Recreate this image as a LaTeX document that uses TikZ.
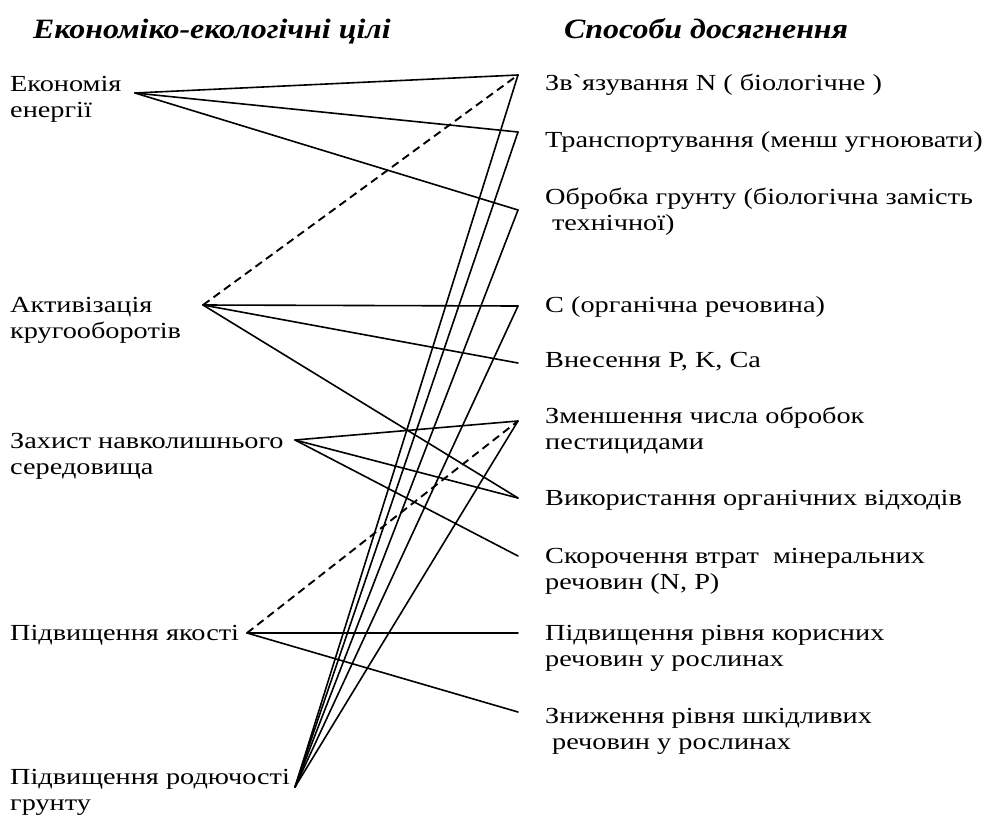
\documentclass[tikz,border=0pt]{standalone}
\usepackage{fontspec}
\setmainfont{Liberation Serif}[Ligatures=TeXOff]
\newfontfamily\bodyfont{Liberation Serif}[Ligatures=TeXOff,FakeStretch=1.23]
\newfontfamily\titlefont{Liberation Serif}[FakeStretch=1.14]
\begin{document}
\begin{tikzpicture}[x=1pt,y=-1pt,
  lbl/.style={anchor=base west, inner sep=0pt, align=left, font=\bodyfont\fontsize{23}{26}\selectfont},
  ttl/.style={anchor=base west, inner sep=0pt, font=\titlefont\bfseries\itshape\fontsize{28}{30}\selectfont},
  link/.style={line width=1.6pt, line cap=round, line join=round},
  dlink/.style={line width=1.9pt, dash pattern=on 8pt off 5pt}]
\useasboundingbox[fill=white] (0,0) rectangle (985,814);

% titles
\node[ttl] (t1) at (33,38) {Економіко-екологічні цілі};
\node[ttl] (t2) at (564,38) {Способи досягнення};

% left labels (anchored at baseline of last line)
\node[lbl] (a1) at (10,117) {Економія\\енергії};
\node[lbl] (a2) at (10,338) {Активізація\\кругооборотів};
\node[lbl] (a3) at (10,474) {Захист навколишнього\\середовища};
\node[lbl] (a4) at (10,640) {Підвищення якості};
\node[lbl] (a5) at (10,810) {Підвищення родючості\\грунту};

% right labels
\node[lbl] (b1) at (545,90) {Зв`язування N ( біологічне )};
\node[lbl] (b2) at (545,147) {Транспортування (менш угноювати)};
\node[lbl] (b3) at (545,230) {Обробка грунту (біологічна замість\\\hspace{0.3em}технічної)};
\node[lbl] (b4) at (545,312) {С (органічна речовина)};
\node[lbl] (b5) at (545,367) {Внесення P, K, Ca};
\node[lbl] (b6) at (545,449) {Зменшення числа обробок\\пестицидами};
\node[lbl] (b7) at (545,505) {Використання органічних відходів};
\node[lbl] (b8) at (545,589) {Скорочення втрат\ \ мінеральних\\речовин (N, P)};
\node[lbl] (b9) at (545,666) {Підвищення рівня корисних\\речовин у рослинах};
\node[lbl] (b10) at (545,749) {Зниження рівня шкідливих\\\hspace{0.3em}речовин у рослинах};

% connection points
\coordinate (L1) at (135,93);
\coordinate (L2) at (203,305);
\coordinate (L3) at (295,440);
\coordinate (L4) at (247,633);
\coordinate (L5) at (295,787);
\coordinate (R1) at (518,75);
\coordinate (R2) at (518,132);
\coordinate (R3) at (518,210);
\coordinate (R4) at (518,306);
\coordinate (R5) at (518,363);
\coordinate (R6) at (518,421);
\coordinate (R7) at (518,498);
\coordinate (R8) at (518,556);
\coordinate (R9) at (518,633);
\coordinate (R10) at (518,712);

% connectors
\draw[link] (L1) -- (R1);
\draw[link] (L1) -- (R2);
\draw[link] (L1) -- (R3);
\draw[dlink] (L2) -- (R1);
\draw[link] (L2) -- (R4);
\draw[link] (L2) -- (R5);
\draw[link] (L2) -- (R7);
\draw[link] (L3) -- (R6);
\draw[link] (L3) -- (R7);
\draw[link] (L3) -- (R8);
\draw[dlink] (L4) -- (R6);
\draw[link] (L4) -- (R9);
\draw[link] (L4) -- (R10);
\draw[link] (L5) -- (R1);
\draw[link] (L5) -- (R2);
\draw[link] (L5) -- (R3);
\draw[link] (L5) -- (R4);
\draw[link] (L5) -- (R6);
\end{tikzpicture}
\end{document}
